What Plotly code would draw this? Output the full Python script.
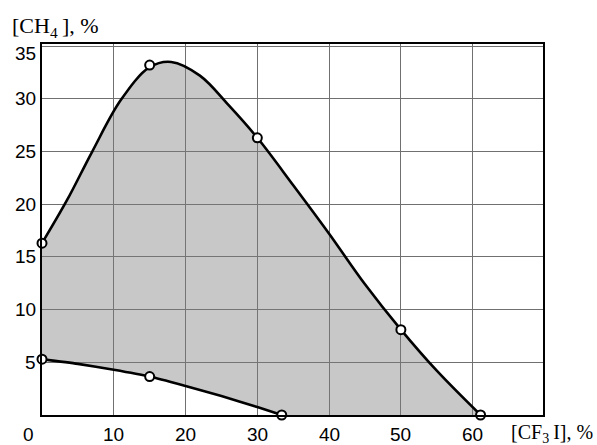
import plotly.graph_objects as go

# Upper flammability boundary, [CF3I] (%) vs [CH4] (%)
upper_x = [0, 3.5, 7, 11, 15, 18, 22, 26, 30, 35, 40, 45, 50, 55, 61.1]
upper_y = [16.3, 20.4, 25.0, 29.9, 33.0, 33.5, 32.2, 29.4, 26.3, 21.8, 17.2, 12.4, 8.1, 4.2, 0]

# Lower flammability boundary
lower_x = [0, 5, 10, 15, 20, 25, 30, 33.4]
lower_y = [5.3, 4.85, 4.3, 3.65, 2.75, 1.8, 0.75, 0]

# Measured points (open circles)
upper_pts_x = [0, 15, 30, 50, 61.1]
upper_pts_y = [16.3, 33.2, 26.3, 8.1, 0]
lower_pts_x = [0, 15, 33.4]
lower_pts_y = [5.3, 3.65, 0]

# Axis ticks
x_ticks = [0, 10, 20, 30, 40, 50, 60]
y_ticks = [5, 10, 15, 20, 25, 30, 35]

x_title = "[CF<sub>3</sub>\u2009I], %"
y_title = "[CH<sub>4</sub>\u2009], %"

fig = go.Figure()

# Lower edge of the flammable region (follows the lower curve, then the x axis)
fig.add_trace(go.Scatter(
    x=lower_x + [upper_x[-1]], y=lower_y + [0],
    mode="lines", line=dict(width=0, color="rgba(0,0,0,0)"),
    hoverinfo="skip", showlegend=False,
))

# Upper curve, shaded down to the lower edge
fig.add_trace(go.Scatter(
    x=upper_x, y=upper_y, mode="lines",
    line=dict(color="black", width=2.6, shape="spline", smoothing=1),
    fill="tonexty",
    fillcolor="rgba(125,125,125,0.42)",
    showlegend=False,
))

# Lower curve
fig.add_trace(go.Scatter(
    x=lower_x, y=lower_y, mode="lines",
    line=dict(color="black", width=2.6, shape="spline", smoothing=0.6),
    showlegend=False,
))

# Measured points
marker_style = dict(symbol="circle", size=9, color="white", line=dict(color="black", width=2))
fig.add_trace(go.Scatter(x=upper_pts_x, y=upper_pts_y, mode="markers",
                         marker=marker_style, cliponaxis=False, showlegend=False))
fig.add_trace(go.Scatter(x=lower_pts_x, y=lower_pts_y, mode="markers",
                         marker=marker_style, cliponaxis=False, showlegend=False))

tick_font = dict(family="Liberation Sans, Arial, sans-serif", size=19, color="black")
title_font = dict(family="Liberation Serif, Times New Roman, serif", size=22, color="black")
x_title_font = dict(family="Liberation Serif, Times New Roman, serif", size=20, color="black")

annotations = []
for v in x_ticks:
    annotations.append(dict(
        x=v, y=0, xref="x", yref="paper", text=str(v), showarrow=False,
        xanchor="center", yanchor="middle", yshift=-19,
        xshift=-14 if v == 0 else 0, font=tick_font,
    ))
for v in y_ticks:
    annotations.append(dict(
        x=0, y=v, xref="paper", yref="y", text=str(v), showarrow=False,
        xanchor="right", yanchor="middle", xshift=-4,
        yshift=-7 if v == 35 else 0, font=tick_font,
    ))
annotations.append(dict(
    x=0, y=1, xref="paper", yref="paper", text=y_title, showarrow=False,
    xanchor="left", yanchor="middle", xshift=-32, yshift=17, font=title_font,
))
annotations.append(dict(
    x=(595 - 42) / 501, y=0, xref="paper", yref="paper", text=x_title, showarrow=False,
    xanchor="right", yanchor="middle", yshift=-18, font=x_title_font,
))

axis_common = dict(
    showgrid=True, gridcolor="#707070", gridwidth=1,
    showline=True, linecolor="black", linewidth=2, mirror=True,
    zeroline=False, showticklabels=False, ticks="",
)

fig.update_layout(
    width=597, height=445,
    margin=dict(l=42, r=54, t=44, b=30),
    paper_bgcolor="white", plot_bgcolor="white",
    xaxis=dict(range=[0, 69.8], tickvals=x_ticks, **axis_common),
    yaxis=dict(range=[0, 35.2], tickvals=y_ticks, **axis_common),
    annotations=annotations,
    showlegend=False,
)

fig.write_html("out.html")
